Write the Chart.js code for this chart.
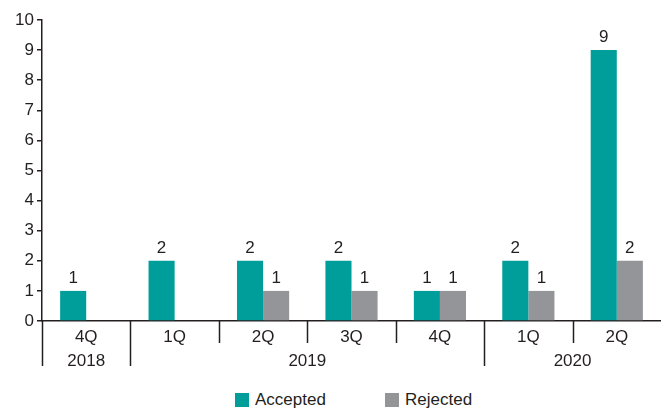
<!DOCTYPE html>
<html>
<head>
<meta charset="utf-8">
<script src="https://cdn.jsdelivr.net/npm/chart.js@4"></script>
<style>
  body { margin: 0; background: #fff; font-family: 'Liberation Sans', Arial, sans-serif; }
  #wrap { position: relative; width: 661px; height: 380px; }
  #legend { position: absolute; top: 390px; left: 0; width: 661px; height: 18px; font-size: 17px; color: #231f20; }
  .item { position: absolute; top: 0; display: flex; align-items: center; }
  .box { width: 14px; height: 14px; margin-right: 6px; }
</style>
</head>
<body>
<div id="wrap"><canvas id="bar_chart"></canvas></div>
<div id="legend">
  <div class="item" style="left:235px"><span class="box" style="background:#009e9a"></span>Accepted</div>
  <div class="item" style="left:385px"><span class="box" style="background:#939598"></span>Rejected</div>
</div>
<script>
const quarters = ['4Q', '1Q', '2Q', '3Q', '4Q', '1Q', '2Q'];
const years = ['2018', '2019', '2020'];
const yearSpans = [1, 4, 2];
const accepted = [1, 2, 2, 2, 1, 2, 9];
const rejected = [0, 0, 1, 1, 1, 1, 2];

const ink = '#231f20';
const font = { family: "'Liberation Sans', Arial, sans-serif", size: 17 };

// value above each bar, skipped for empty bars
const valueLabels = {
    id: 'valueLabels',
    afterDatasetsDraw(chart) {
        const c = chart.ctx;
        c.save();
        c.font = font.size + 'px ' + font.family;
        c.fillStyle = ink;
        c.textAlign = 'center';
        c.textBaseline = 'bottom';
        chart.data.datasets.forEach((ds, i) => {
            chart.getDatasetMeta(i).data.forEach((bar, j) => {
                if (ds.data[j] > 0) c.fillText(ds.data[j], bar.x, bar.y - 4);
            });
        });
        c.restore();
    }
};

// quarter separators and year row under the x axis
const yearRow = {
    id: 'yearRow',
    afterDraw(chart) {
        const c = chart.ctx;
        const x = chart.scales.x;
        const bottom = chart.chartArea.bottom;
        const half = (x.getPixelForValue(1) - x.getPixelForValue(0)) / 2;
        const yearStarts = [];
        let s = 0;
        yearSpans.forEach(n => { yearStarts.push(s); s += n; });

        c.save();
        c.strokeStyle = ink;
        c.lineWidth = 1.5;
        for (let i = 0; i < quarters.length; i++) {
            const px = Math.round(x.getPixelForValue(i) - half) + 0.5;
            const long = yearStarts.includes(i);
            c.beginPath();
            c.moveTo(px, bottom);
            c.lineTo(px, bottom + (long ? 45 : 22));
            c.stroke();
        }
        c.font = font.size + 'px ' + font.family;
        c.fillStyle = ink;
        c.textAlign = 'center';
        c.textBaseline = 'middle';
        years.forEach((yr, k) => {
            const a = yearStarts[k];
            const b = a + yearSpans[k] - 1;
            const cx = (x.getPixelForValue(a) + x.getPixelForValue(b)) / 2;
            c.fillText(yr, cx, bottom + 40);
        });
        c.restore();
    }
};

new Chart(document.getElementById('bar_chart'), {
    type: 'bar',
    data: {
        labels: quarters,
        datasets: [{
            label: 'Accepted',
            data: accepted,
            backgroundColor: '#009e9a'
        }, {
            label: 'Rejected',
            data: rejected,
            backgroundColor: '#939598'
        }]
    },
    options: {
        responsive: true,
        maintainAspectRatio: false,
        animation: false,
        categoryPercentage: 0.59,
        barPercentage: 1.0,
        layout: { padding: { top: 20, right: 0, left: 1, bottom: 0 } },
        plugins: {
            legend: { display: false },
            tooltip: { enabled: false }
        },
        scales: {
            x: {
                border: { color: ink, width: 1.5 },
                grid: { display: true, drawOnChartArea: false, drawTicks: false, color: 'transparent' },
                ticks: { color: ink, font: font, padding: 6 },
                afterFit(scale) { scale.height = 59; }
            },
            y: {
                min: 0,
                max: 10,
                border: { color: ink, width: 1.5 },
                grid: { drawOnChartArea: false, tickLength: 5, color: ink, lineWidth: 1.5 },
                ticks: { stepSize: 1, color: ink, font: font, padding: 3 },
                afterFit(scale) { scale.width = 41; }
            }
        }
    },
    plugins: [valueLabels, yearRow]
});
</script>
</body>
</html>
